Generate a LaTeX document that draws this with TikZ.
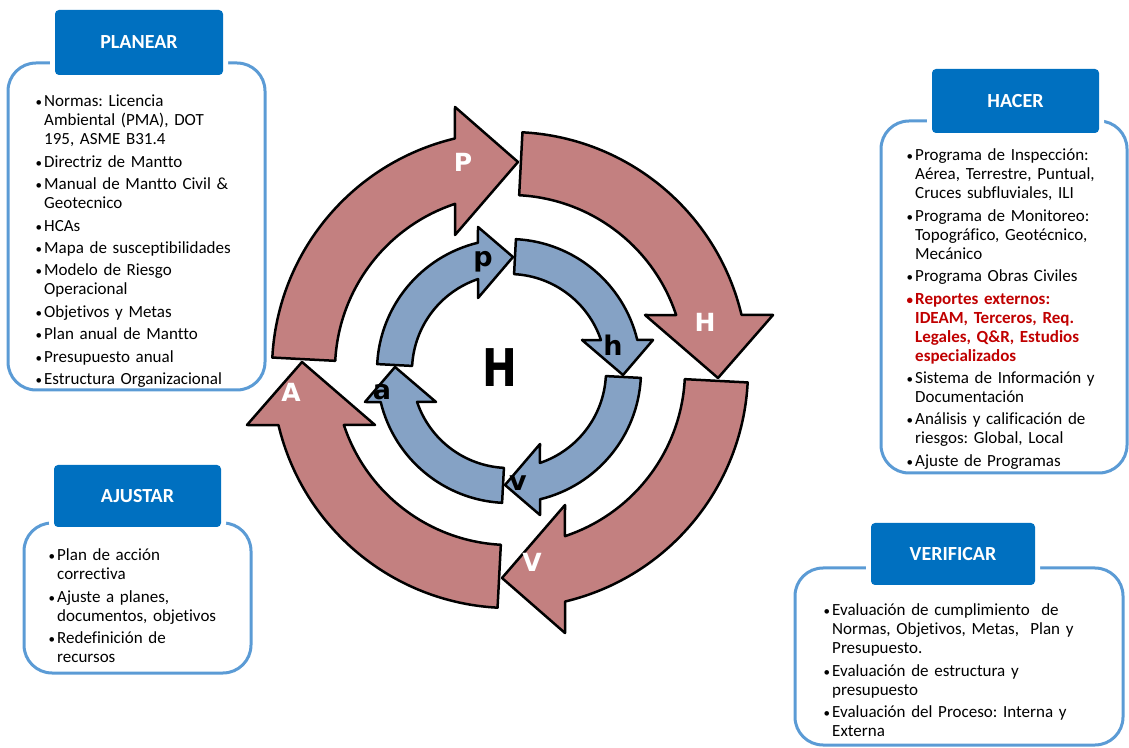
\documentclass[tikz,border=0pt]{standalone}
\usepackage{fontspec}
\usepackage{graphicx}
\setmainfont{Carlito}[Ligatures=NoCommon]
\newfontfamily\heavyfont{DejaVu Sans}
\frenchspacing

\definecolor{ringred}{RGB}{195,128,128}
\definecolor{ringblue}{RGB}{133,162,197}
\definecolor{hdrblue}{RGB}{0,112,192}
\definecolor{boxblue}{RGB}{91,155,213}
\definecolor{alertred}{RGB}{192,0,0}

% bullet lines for the panels
\newcommand{\dotmark}{\makebox[9pt][l]{\hspace{0.5pt}{\fontsize{13}{13}\selectfont\textbullet}}}
\newcommand{\bitem}[1]{\par\noindent\hangindent=9pt\hangafter=1\dotmark\strut#1\par\vspace{3.4pt}}
\newcommand{\ritem}[1]{\par\noindent\hangindent=9pt\hangafter=1{\color{alertred}\bfseries\dotmark\strut#1}\par\vspace{3.4pt}}

\tikzset{
  bigarrow/.style={fill=ringred, draw=black, line width=2.5pt, line join=round},
  smallarrow/.style={fill=ringblue, draw=black, line width=2.5pt, line join=round},
  panel/.style={draw=boxblue, line width=3pt, rounded corners=28pt},
  header/.style={fill=hdrblue, rounded corners=4pt, inner sep=0pt, text=white,
    font=\bfseries\fontsize{20}{22}\selectfont, preaction={draw=white, line width=10pt}},
  itemtext/.style={anchor=north west, inner sep=0pt, text width=#1, align=left,
    font=\fontsize{17}{19}\selectfont},
  biglet/.style={text=white, font=\heavyfont\bfseries\fontsize{25}{25}\selectfont},
  smalllet/.style={font=\heavyfont\bfseries\fontsize{27}{27}\selectfont}
}

\begin{document}
\begin{tikzpicture}[x=1pt, y=1pt]
    \useasboundingbox (0,0) rectangle (1129,747);

    % Draw the outer cycle
    \begin{scope}[shift={(510,377)}]
      \foreach \rot in {0,-90,-180,-270}{
        \draw[bigarrow, rotate=\rot] (177:238) arc[start angle=177, end angle=103.4, radius=238]
          -- (-55,263) -- (8,208) -- (-55,135) -- (108.3:175)
          arc[start angle=108.3, end angle=177, radius=175] -- cycle;
      }
    \end{scope}

    % Draw the inner cycle
    \begin{scope}[shift={(509,376)}]
      \foreach \rot in {0,-90,-180,-270}{
        \draw[smallarrow, rotate=\rot] (177:132) arc[start angle=177, end angle=103.6, radius=132]
          -- (-31,144) -- (4,114) -- (-31,73) -- (108.6:97)
          arc[start angle=108.6, end angle=177, radius=97] -- cycle;
      }
    \end{scope}

    % Letters on the arrows
    \node[biglet] (bigP) at (463,585) {P};
    \node[biglet] (bigH) at (705,425) {H};
    \node[biglet] (bigV) at (532,185) {V};
    \node[biglet] (bigA) at (291,355) {A};
    \node[smalllet] (smallp) at (483,485) {p};
    \node[smalllet] (smallh) at (613,402) {h};
    \node[smalllet] (smallv) at (518,264) {v};
    \node[smalllet] (smalla) at (382,355) {a};
    \node[font=\heavyfont\bfseries\fontsize{52}{52}\selectfont] (core) at (500,379) {\scalebox{0.8}[1]{H}};

    % Panels
    \draw[panel] (8,357) rectangle (265,684);
    \draw[panel] (881,274) rectangle (1127,626);
    \draw[panel] (24,74) rectangle (251,224);
    \draw[panel] (795,2) rectangle (1123,179);

    % Panel titles
    \node[header, minimum width=168, minimum height=65] (planear) at (139,704.5) {PLANEAR};
    \node[header, minimum width=167, minimum height=64] (hacer) at (1015.5,646) {HACER};
    \node[header, minimum width=167, minimum height=62] (ajustar) at (137.5,251) {AJUSTAR};
    \node[header, minimum width=164, minimum height=62] (verificar) at (953,193) {VERIFICAR};

    % Panel texts
    \node[itemtext=228pt] (planlist) at (35,659.3) {%
      \bitem{Normas: Licencia\newline Ambiental (PMA), DOT\newline 195, ASME B31.4}
      \bitem{Directriz de Mantto}
      \bitem{Manual de Mantto Civil \&\newline Geotecnico}
      \bitem{HCAs}
      \bitem{Mapa de susceptibilidades}
      \bitem{Modelo de Riesgo\newline Operacional}
      \bitem{Objetivos y Metas}
      \bitem{Plan anual de Mantto}
      \bitem{Presupuesto anual}
      \bitem{Estructura Organizacional}};

    \node[itemtext=214pt] (hacerlist) at (906,605.3) {%
      \bitem{Programa de Inspección:\newline Aérea, Terrestre, Puntual,\newline Cruces subfluviales, ILI}
      \bitem{Programa de Monitoreo:\newline Topográfico, Geotécnico,\newline Mecánico}
      \bitem{Programa Obras Civiles}
      \ritem{Reportes externos:\newline IDEAM, Terceros, Req.\newline Legales, Q\&R, Estudios\newline especializados}
      \bitem{Sistema de Información y\newline Documentación}
      \bitem{Análisis y calificación de\newline riesgos: Global, Local}
      \bitem{Ajuste de Programas}};

    \node[itemtext=192pt] (ajustarlist) at (48,205.3) {%
      \bitem{Plan de acción\newline correctiva}
      \bitem{Ajuste a planes,\newline documentos, objetivos}
      \bitem{Redefinición de\newline recursos}};

    \node[itemtext=287pt] (verificarlist) at (823,150.3) {%
      \bitem{Evaluación de cumplimiento\ \ de\newline Normas, Objetivos, Metas,\ \ Plan y\newline Presupuesto.}
      \bitem{Evaluación de estructura y\newline presupuesto}
      \bitem{Evaluación del Proceso: Interna y\newline Externa}};

\end{tikzpicture}
\end{document}
